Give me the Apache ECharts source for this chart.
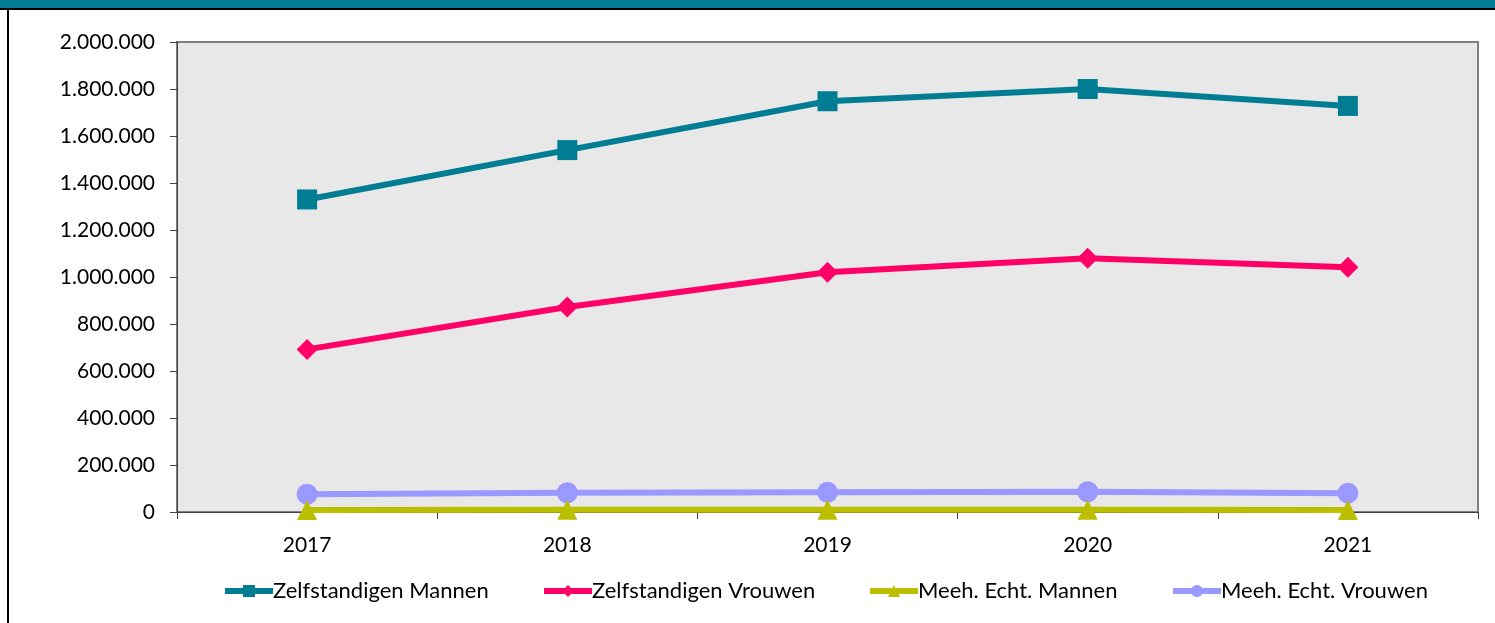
<!DOCTYPE html>
<html><head><meta charset="utf-8">
<script src="https://cdn.jsdelivr.net/npm/echarts@6/dist/echarts.min.js"></script>
<style>html,body{margin:0;padding:0;background:#fff}#c{width:1495px;height:623px}</style>
</head><body><div id="c"></div>
<script>
const years = ['2017','2018','2019','2020','2021'];
const zelfMannen = [1330000, 1540000, 1748000, 1800000, 1728000];
const zelfVrouwen = [692000, 872000, 1020000, 1080000, 1042000];
const meehMannen = [9000, 10000, 10000, 10000, 9000];
const meehVrouwen = [76000, 82000, 84000, 86000, 80000];
const seriesNames = ['Zelfstandigen Mannen','Zelfstandigen Vrouwen','Meeh. Echt. Mannen','Meeh. Echt. Vrouwen'];
const yTicks = ['0','200.000','400.000','600.000','800.000','1.000.000','1.200.000','1.400.000','1.600.000','1.800.000','2.000.000'];

const FONT = 'Lato';
const chart = echarts.init(document.getElementById('c'), null, {renderer:'canvas'});
const colors = ['#007D92','#FF0066','#BBBF00','#9999FF'];
const symbols = ['rect','diamond','triangle','circle'];
const sizes = [20,21,20,21];
const datas = [zelfMannen, zelfVrouwen, meehMannen, meehVrouwen];
const legendLefts = [222, 541, 867, 1170];

chart.setOption({
  animation:false,
  backgroundColor:'#fff',
  graphic:[
    {type:'rect', shape:{x:0,y:0,width:1495,height:8}, style:{fill:'#007D92'}, silent:true},
    {type:'rect', shape:{x:0,y:8,width:1495,height:2}, style:{fill:'#000'}, silent:true},
    {type:'rect', shape:{x:7,y:8,width:2,height:615}, style:{fill:'#000'}, silent:true}
  ],
  grid:{left:177, right:17, top:42, bottom:111, show:true, backgroundColor:'#E8E8E8', borderColor:'#808080', borderWidth:2},
  legend: legendLefts.map((l,i)=>({
    data:[seriesNames[i]], left:l, top:580, padding:0, itemWidth:48, itemHeight:15, itemGap:0,
    lineStyle:{width:6},
    textStyle:{fontFamily:FONT, fontSize:22, color:'#000', padding:[0,0,0,-5]}
  })),
  xAxis:{type:'category', data:years, boundaryGap:true,
    axisLine:{lineStyle:{color:'#404040', width:1}},
    axisTick:{show:true, length:7, lineStyle:{color:'#404040'}},
    axisLabel:{fontFamily:FONT, fontSize:21, color:'#000', margin:23}},
  yAxis:{type:'value', min:0, max:2000000, interval:200000,
    axisLine:{show:true, lineStyle:{color:'#404040', width:1}},
    axisTick:{show:true, length:7, lineStyle:{color:'#404040'}},
    splitLine:{show:false},
    axisLabel:{fontFamily:FONT, fontSize:21, color:'#000', margin:22,
      formatter:(v)=>yTicks[Math.round(v/200000)]}},
  series: datas.map((d,i)=>({
    name:seriesNames[i], type:'line', data:d, symbol:symbols[i], symbolSize:sizes[i],
    lineStyle:{color:colors[i], width:6}, itemStyle:{color:colors[i]},
    z: 10-i
  }))
});
</script></body></html>
